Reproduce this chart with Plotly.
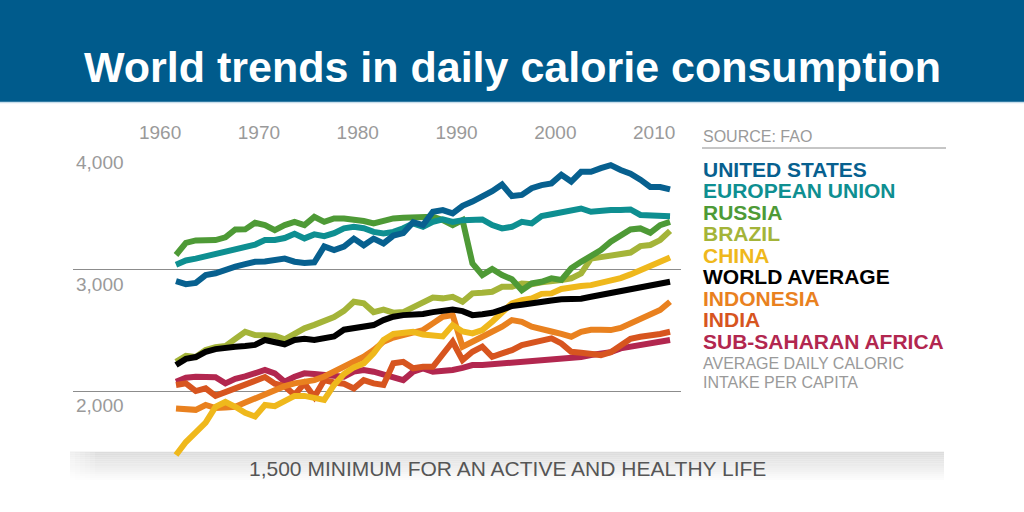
import plotly.graph_objects as go

years = list(range(1961, 2012))

united_states = [2905, 2880, 2890, 2955, 2970, 3000, 3025, 3045, 3064, 3066,
                 3080, 3090, 3065, 3055, 3060, 3190, 3160, 3190, 3255, 3200,
                 3255, 3215, 3280, 3300, 3390, 3366, 3476, 3490, 3462, 3525,
                 3560, 3600, 3645, 3700, 3605, 3615, 3670, 3695, 3710, 3780,
                 3725, 3805, 3805, 3835, 3860, 3820, 3790, 3740, 3680, 3680,
                 3660]
european_union = [3040, 3075, 3090, 3110, 3133, 3150, 3174, 3190, 3205, 3243,
                  3243, 3260, 3295, 3257, 3290, 3275, 3300, 3340, 3352, 3340,
                  3310, 3298, 3310, 3340, 3380, 3352, 3393, 3413, 3393, 3407,
                  3410, 3413, 3366, 3339, 3352, 3393, 3380, 3440, 3455, 3467,
                  3485, 3503, 3476, 3485, 3490, 3490, 3495, 3450, 3449, 3440,
                  3440]
russia = [3120, 3220, 3240, 3243, 3243, 3265, 3330, 3331, 3385, 3366,
          3325, 3366, 3393, 3366, 3434, 3393, 3421, 3421, 3415, 3400,
          3380, 3407, 3421, 3426, 3430, 3430, 3434, 3407, 3366, 3407,
          3051, 2955, 3005, 2955, 2920, 2830, 2886, 2900, 2928, 2914,
          3010, 3064, 3113, 3160, 3229, 3284, 3330, 3339, 3303, 3366,
          3393]
brazil = [2241, 2290, 2280, 2337, 2360, 2370, 2430, 2488, 2461, 2460,
          2455, 2425, 2470, 2516, 2545, 2575, 2610, 2660, 2735, 2722,
          2650, 2670, 2645, 2650, 2694, 2735, 2770, 2763, 2776, 2735,
          2804, 2809, 2817, 2858, 2858, 2886, 2880, 2895, 2900, 2914,
          2928, 2969, 3090, 3105, 3110, 3125, 3140, 3193, 3202, 3243,
          3319]
china = [1473, 1580, 1660, 1740, 1870, 1910, 1870, 1820, 1790, 1885,
         1875, 1920, 1960, 1960, 1945, 1926, 2050, 2140, 2195, 2228,
         2310, 2420, 2470, 2480, 2488, 2465, 2461, 2450, 2543, 2490,
         2475, 2502, 2570, 2639, 2722, 2749, 2763, 2800, 2804, 2840,
         2855, 2864, 2872, 2890, 2910, 2930, 2960, 2996, 3020, 3056,
         3100]
world_average = [2214, 2265, 2280, 2323, 2345, 2360, 2365, 2370, 2380, 2420,
                 2398, 2385, 2420, 2430, 2420, 2435, 2450, 2505, 2515, 2525,
                 2543, 2584, 2612, 2625, 2625, 2635, 2650, 2665, 2672, 2658,
                 2625, 2633, 2644, 2670, 2700, 2710, 2725, 2735, 2745, 2755,
                 2755, 2760, 2776, 2790, 2804, 2820, 2840, 2858, 2864, 2886,
                 2900]
indonesia = [1857, 1857, 1845, 1885, 1860, 1865, 1871, 1905, 1940, 1967,
             2000, 2040, 2063, 2075, 2090, 2120, 2160, 2200, 2240, 2282,
             2337, 2406, 2440, 2461, 2480, 2502, 2557, 2612, 2625, 2365,
             2406, 2447, 2488, 2530, 2584, 2570, 2530, 2516, 2490, 2470,
             2447, 2488, 2505, 2505, 2502, 2520, 2557, 2598, 2630, 2667,
             2735]
india = [2049, 2063, 2000, 2022, 1960, 1990, 2030, 2050, 2080, 2115,
         2060, 2040, 1967, 2063, 1950, 2090, 2070, 2060, 2022, 2090,
         2063, 2050, 2228, 2240, 2187, 2200, 2200, 2300, 2406, 2255,
         2323, 2365, 2282, 2310, 2337, 2378, 2395, 2406, 2434, 2392,
         2323, 2315, 2310, 2296, 2320, 2380, 2430, 2447, 2455, 2470,
         2488]
sub_saharan_africa = [2077, 2110, 2118, 2115, 2113, 2063, 2100, 2120, 2150, 2173,
                      2146, 2077, 2118, 2146, 2140, 2132, 2130, 2118, 2160, 2173,
                      2159, 2132, 2118, 2090, 2159, 2187, 2159, 2165, 2173, 2190,
                      2214, 2214, 2220, 2228, 2228, 2235, 2241, 2250, 2255, 2262,
                      2269, 2280, 2296, 2303, 2320, 2351, 2365, 2372, 2385, 2400,
                      2420]

series_names = ["UNITED STATES", "EUROPEAN UNION", "RUSSIA", "BRAZIL", "CHINA",
                "WORLD AVERAGE", "INDONESIA", "INDIA", "SUB-SAHARAN AFRICA"]
series_values = [united_states, european_union, russia, brazil, china,
                 world_average, indonesia, india, sub_saharan_africa]
series_colors = ["#07608f", "#0e8f91", "#4e9a36", "#a4b439", "#efb81c",
                 "#000000", "#e9811f", "#d7551f", "#b2274f"]
draw_order = [8, 7, 6, 4, 3, 5, 2, 1, 0]

x_ticks = [1960, 1970, 1980, 1990, 2000, 2010]
x_tick_labels = ["1960", "1970", "1980", "1990", "2000", "2010"]
y_ticks = [2000, 3000, 4000]
y_tick_labels = ["2,000", "3,000", "4,000"]
minimum_level = 1500

title_text = "World trends in daily calorie consumption"
source_text = "SOURCE: FAO"
note_lines = ["AVERAGE DAILY CALORIC", "INTAKE PER CAPITA"]
minimum_text = "1,500 MINIMUM FOR AN ACTIVE AND HEALTHY LIFE"

# ---- layout geometry (pixels) ----
W, H = 1024, 512
L, R, T, B = 73, 681, 148, 480
PW, PH = R - L, B - T
Y_MIN, Y_MAX = 1267.5, 4001
X_MIN, X_MAX = 1950.575, 2012.11


def px(xp):
    return (xp - L) / PW


def py(yp):
    return (B - yp) / PH


FONT = "Liberation Sans, Arial, Helvetica, sans-serif"
GRAY = "#9a9a9a"

fig = go.Figure()
for i in draw_order:
    fig.add_trace(go.Scatter(
        x=years, y=series_values[i], mode="lines", name=series_names[i],
        line=dict(color=series_colors[i], width=6), hoverinfo="skip",
        showlegend=False))

shapes = []
# banner
shapes.append(dict(type="rect", xref="paper", yref="paper", x0=px(-2), x1=px(W + 2),
                   y0=py(102), y1=py(-2), fillcolor="#005b8c", line=dict(width=0),
                   layer="below"))
shapes.append(dict(type="line", xref="paper", yref="paper", x0=px(-2), x1=px(W + 2),
                   y0=py(102.5), y1=py(102.5), line=dict(color="#c9dfec", width=1.5),
                   layer="below"))
# minimum band as a vertical gradient of thin strips
n_strips = 14
band_bottom = Y_MIN
for k in range(n_strips):
    t0 = k / n_strips
    t1 = (k + 1) / n_strips
    g = int(round(0xdc + (0xff - 0xdc) * t0))
    col = "#%02x%02x%02x" % (g, g, g)
    shapes.append(dict(type="rect", xref="paper", yref="y",
                       x0=px(70), x1=px(944),
                       y0=minimum_level - (minimum_level - band_bottom) * t1,
                       y1=minimum_level - (minimum_level - band_bottom) * t0,
                       fillcolor=col, line=dict(width=0), layer="below"))
# soft left fade of the band
for k in range(5):
    shapes.append(dict(type="rect", xref="paper", yref="y",
                       x0=px(70 + 5 * k), x1=px(75 + 5 * k),
                       y0=band_bottom, y1=minimum_level,
                       fillcolor="white", opacity=0.55 - 0.1 * k,
                       line=dict(width=0), layer="below"))
# source rule
shapes.append(dict(type="line", xref="paper", yref="paper", x0=px(702), x1=px(946),
                   y0=py(148), y1=py(148), line=dict(color="#8c8c8c", width=1)))

annotations = []
annotations.append(dict(text="<b>%s</b>" % title_text, xref="paper", yref="paper",
                        x=px(512), y=py(67), xanchor="center", yanchor="middle",
                        showarrow=False, font=dict(family=FONT, size=43, color="white")))
for v, lab in zip(y_ticks, y_tick_labels):
    annotations.append(dict(text=lab, xref="paper", yref="y", x=px(74), y=v,
                            xanchor="left", yanchor="top", yshift=-2, showarrow=False,
                            font=dict(family=FONT, size=19, color=GRAY)))
annotations.append(dict(text=source_text, xref="paper", yref="paper", x=px(701),
                        y=py(136), xanchor="left", yanchor="middle", showarrow=False,
                        font=dict(family=FONT, size=16, color=GRAY)))
legend_y = [169, 190.5, 212, 233.5, 255, 276.5, 298, 319.5, 341]
for name, col, yy in zip(series_names, series_colors, legend_y):
    annotations.append(dict(text="<b>%s</b>" % name, xref="paper", yref="paper",
                            x=px(701), y=py(yy), xanchor="left", yanchor="middle",
                            showarrow=False,
                            font=dict(family=FONT, size=21, color=col)))
for line_txt, yy in zip(note_lines, [363, 382]):
    annotations.append(dict(text=line_txt, xref="paper", yref="paper", x=px(701),
                            y=py(yy), xanchor="left", yanchor="middle", showarrow=False,
                            font=dict(family=FONT, size=16, color=GRAY)))
annotations.append(dict(text=minimum_text, xref="paper", yref="paper", x=px(507),
                        y=py(468), xanchor="center", yanchor="middle", showarrow=False,
                        font=dict(family=FONT, size=21, color="#555555")))

fig.update_layout(
    width=W, height=H,
    margin=dict(l=L, r=W - R, t=T, b=H - B, pad=0),
    paper_bgcolor="white", plot_bgcolor="rgba(0,0,0,0)",
    shapes=shapes, annotations=annotations,
    xaxis=dict(range=[X_MIN, X_MAX], side="top", tickmode="array",
               tickvals=x_ticks, ticktext=x_tick_labels, showgrid=False,
               zeroline=False, showline=False, ticks="",
               ticklabelshift=-6, ticklabelstandoff=4,
               tickfont=dict(family=FONT, size=19, color=GRAY), fixedrange=True),
    yaxis=dict(range=[Y_MIN, Y_MAX], tickmode="array", tickvals=y_ticks,
               showticklabels=False, showgrid=True, gridcolor="#8c8c8c",
               gridwidth=1, zeroline=False, showline=False, ticks="",
               fixedrange=True),
    showlegend=False,
)

fig.write_html(
    "out.html",
    config={"displayModeBar": False},
    post_script=("document.body.style.margin='0';document.body.style.padding='0';"
                 "document.documentElement.style.overflow='hidden';"
                 "document.body.style.overflow='hidden';"),
)
